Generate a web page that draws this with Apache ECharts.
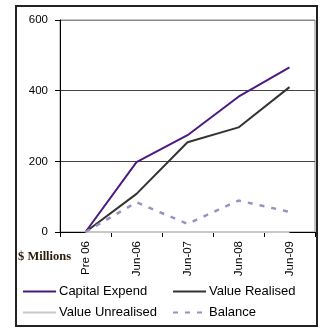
<!DOCTYPE html>
<html><head><meta charset="utf-8">
<script src="https://cdn.jsdelivr.net/npm/echarts@6/dist/echarts.min.js"></script>
<style>html,body{margin:0;padding:0;background:#fff}#c{width:325px;height:333px}</style>
</head><body><div id="c"></div>
<script>
var categories = ['Pre 06', 'Jun-06', 'Jun-07', 'Jun-08', 'Jun-09'];
var capitalExpend = [0, 198, 274, 383, 466];
var valueRealised = [0, 108, 254, 296, 410];
var valueUnrealised = [0, 0, 0, 0, 0];
var balance = [0, 84, 23, 89, 57];
var yTicks = [0, 200, 400, 600];

var chart = echarts.init(document.getElementById('c'), null, {renderer: 'canvas'});
var font = 'Liberation Sans, Arial, sans-serif';
function line(name, data, color, width, type) {
  return {name: name, type: 'line', data: data, symbol: 'none', showSymbol: false,
    lineStyle: {color: color, width: width, type: type || 'solid'}, itemStyle: {color: color},
    animation: false, z: 3};
}
var legendCommon = {orient: 'vertical', top: 285, padding: 0, itemWidth: 33, itemHeight: 14, itemGap: 8,
  itemStyle: {opacity: 0},
  textStyle: {fontFamily: font, fontSize: 13, color: '#000', padding: [0,0,0,-2]}};
chart.setOption({
  animation: false,
  grid: {left: 60, right: 10, top: 20, bottom: 101, show: true, borderColor: '#8a8a8a', borderWidth: 1},
  xAxis: {type: 'category', data: categories, boundaryGap: true,
    axisLine: {lineStyle: {color: '#000', width: 1}},
    axisTick: {show: true, length: 5, interval: 0, lineStyle: {color: '#000'}},
    axisLabel: {rotate: 90, margin: 9, interval: 0, color: '#000', fontFamily: font, fontSize: 11.5}},
  yAxis: {type: 'value', min: yTicks[0], max: yTicks[yTicks.length - 1], interval: 200,
    axisLine: {show: true, lineStyle: {color: '#000', width: 1}},
    axisTick: {show: true, length: 5, lineStyle: {color: '#000'}},
    axisLabel: {margin: 12, color: '#000', fontFamily: font, fontSize: 11.5},
    splitLine: {show: true, lineStyle: {color: ['#444', '#444', '#444', '#8a8a8a'], width: 1}}},
  legend: [
    Object.assign({left: 22, data: ['Capital Expend', 'Value Unrealised']}, legendCommon),
    Object.assign({left: 172, data: ['Value Realised', 'Balance']}, legendCommon)
  ],
  graphic: [
    {type: 'rect', shape: {x: 16, y: 6, width: 301, height: 320}, style: {fill: 'none', stroke: '#222', lineWidth: 2}, silent: true},
    {type: 'text', left: 18, top: 250, style: {text: '$ Millions', font: 'bold 12.5px "Liberation Serif", serif', fill: '#2b1d0e'}}
  ],
  series: [
    line('Capital Expend', capitalExpend, '#4b1a80', 2),
    line('Value Realised', valueRealised, '#333333', 2),
    line('Value Unrealised', valueUnrealised, '#c8c8c8', 2),
    line('Balance', balance, '#9d8fc4', 2.5, [5, 7])
  ]
});
</script></body></html>
